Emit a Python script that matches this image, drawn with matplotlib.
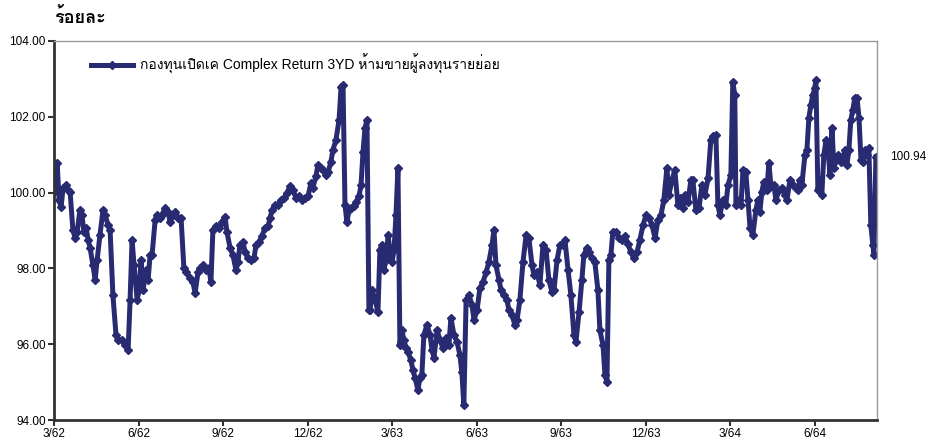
import matplotlib
matplotlib.use('Agg')
import matplotlib.pyplot as plt
from matplotlib import font_manager as fm
from matplotlib.ft2font import FT2Font

# month offset from 3/62 and NAV (% of par)
months = [
    0.00, 0.11, 0.18, 0.25, 0.32, 0.43, 0.50, 0.57, 0.67, 0.75, 0.82, 0.92, 0.99, 1.06, 1.14, 1.21,
    1.28, 1.38, 1.46, 1.53, 1.63, 1.74, 1.81, 1.92, 1.99, 2.09, 2.20, 2.27, 2.41, 2.52, 2.63, 2.70,
    2.77, 2.84, 2.95, 3.02, 3.09, 3.16, 3.27, 3.34, 3.41, 3.48, 3.59, 3.66, 3.76, 3.83, 3.94, 4.05,
    4.12, 4.19, 4.30, 4.40, 4.51, 4.61, 4.69, 4.83, 4.93, 5.01, 5.11, 5.18, 5.29, 5.40, 5.50, 5.57,
    5.64, 5.75, 5.86, 5.96, 6.07, 6.14, 6.25, 6.35, 6.46, 6.53, 6.60, 6.71, 6.78, 6.89, 6.99, 7.10,
    7.17, 7.28, 7.38, 7.49, 7.60, 7.67, 7.74, 7.85, 7.95, 8.06, 8.16, 8.27, 8.38, 8.48, 8.59, 8.70,
    8.80, 8.91, 9.02, 9.12, 9.19, 9.30, 9.37, 9.48, 9.55, 9.66, 9.73, 9.83, 9.90, 10.01, 10.12, 10.19,
    10.26, 10.33, 10.40, 10.47, 10.54, 10.65, 10.72, 10.83, 10.90, 10.97, 11.04, 11.11, 11.18, 11.22,
    11.29, 11.40, 11.50, 11.57, 11.64, 11.71, 11.79, 11.86, 11.93, 12.00, 12.07, 12.14, 12.21, 12.28,
    12.35, 12.42, 12.50, 12.57, 12.67, 12.74, 12.82, 12.92, 12.99, 13.06, 13.13, 13.24, 13.35, 13.42,
    13.49, 13.60, 13.70, 13.81, 13.92, 14.02, 14.09, 14.20, 14.31, 14.41, 14.48, 14.55, 14.63, 14.73,
    14.84, 14.91, 15.02, 15.12, 15.23, 15.34, 15.44, 15.55, 15.62, 15.69, 15.80, 15.87, 15.97, 16.08,
    16.15, 16.26, 16.36, 16.44, 16.54, 16.65, 16.76, 16.86, 16.97, 17.04, 17.15, 17.25, 17.36, 17.47,
    17.57, 17.68, 17.75, 17.86, 17.96, 18.07, 18.14, 18.25, 18.35, 18.46, 18.53, 18.64, 18.74, 18.81,
    18.92, 18.99, 19.10, 19.20, 19.31, 19.38, 19.49, 19.56, 19.63, 19.70, 19.77, 19.84, 19.95, 20.06,
    20.16, 20.27, 20.38, 20.48, 20.59, 20.70, 20.80, 20.91, 21.02, 21.12, 21.23, 21.34, 21.44, 21.55,
    21.65, 21.76, 21.83, 21.94, 22.04, 22.15, 22.22, 22.33, 22.40, 22.51, 22.61, 22.68, 22.79, 22.90,
    23.00, 23.11, 23.22, 23.32, 23.39, 23.50, 23.57, 23.64, 23.75, 23.85, 23.93, 24.03, 24.10, 24.17,
    24.21, 24.32, 24.39, 24.46, 24.56, 24.64, 24.71, 24.81, 24.92, 24.99, 25.06, 25.13, 25.20, 25.31,
    25.38, 25.45, 25.56, 25.63, 25.74, 25.84, 25.95, 26.02, 26.13, 26.23, 26.34, 26.41, 26.48, 26.55,
    26.66, 26.73, 26.80, 26.87, 26.94, 27.01, 27.05, 27.12, 27.19, 27.26, 27.33, 27.41, 27.48, 27.55,
    27.62, 27.69, 27.76, 27.83, 27.94, 28.01, 28.08, 28.15, 28.22, 28.29, 28.36, 28.43, 28.51, 28.58,
    28.65, 28.72, 28.79, 28.86, 28.93, 29.00, 29.07, 29.11, 29.18,
]
nav = [
    100.02, 100.78, 99.80, 99.62, 100.12, 100.20, 100.07, 100.02, 99.01, 98.80, 98.96, 99.54, 99.41, 98.96, 99.07, 98.75,
    98.54, 98.09, 97.69, 98.22, 98.88, 99.54, 99.41, 99.14, 99.01, 97.30, 96.24, 96.11, 96.11, 95.98, 95.85, 97.17,
    98.75, 98.09, 97.17, 97.43, 98.22, 97.43, 97.96, 97.69, 98.35, 98.35, 99.28, 99.41, 99.33, 99.41, 99.59, 99.49,
    99.22, 99.38, 99.49, 99.33, 99.33, 98.01, 97.90, 97.75, 97.64, 97.35, 97.90, 98.01, 98.09, 97.96, 98.01, 97.64,
    99.01, 99.12, 99.07, 99.22, 99.36, 98.96, 98.54, 98.35, 97.96, 98.17, 98.62, 98.70, 98.43, 98.27, 98.22, 98.27,
    98.62, 98.70, 98.85, 99.07, 99.12, 99.33, 99.54, 99.67, 99.67, 99.80, 99.86, 99.99, 100.17, 100.07, 99.86, 99.91,
    99.80, 99.86, 99.91, 100.25, 100.12, 100.44, 100.73, 100.65, 100.60, 100.46, 100.54, 100.81, 101.12, 101.39, 101.92, 102.79,
    102.84, 99.67, 99.22, 99.54, 99.59, 99.64, 99.75, 99.91, 100.20, 101.07, 101.70, 101.92, 96.90, 96.90,
    97.43, 97.17, 96.85, 98.48, 98.62, 97.96, 98.22, 98.88, 98.43, 98.17, 98.48, 99.41, 100.65, 95.98,
    96.37, 96.11, 95.90, 95.79, 95.58, 95.32, 95.11, 94.79, 95.11, 95.19, 96.24, 96.51, 96.24, 95.85,
    95.64, 96.37, 96.11, 95.90, 96.16, 95.98, 96.69, 96.24, 96.06, 95.71, 95.26, 94.39, 97.17, 97.30,
    97.03, 96.64, 96.90, 97.48, 97.64, 97.90, 98.17, 98.62, 99.01, 98.09, 97.69, 97.43, 97.30, 97.17,
    96.90, 96.77, 96.51, 96.64, 97.17, 98.17, 98.88, 98.80, 98.09, 97.82, 97.90, 97.56, 98.62, 98.48,
    97.69, 97.38, 97.43, 98.22, 98.62, 98.62, 98.75, 97.96, 97.30, 96.24, 96.06, 96.85, 97.69, 98.35,
    98.54, 98.43, 98.27, 98.17, 97.43, 96.37, 95.98, 95.19, 95.00, 98.22, 98.35, 98.96, 98.96, 98.80,
    98.75, 98.85, 98.64, 98.43, 98.27, 98.43, 98.75, 99.14, 99.41, 99.33, 99.14, 98.80, 99.28, 99.41,
    99.80, 100.65, 99.94, 100.33, 100.60, 99.67, 99.86, 99.59, 99.94, 99.75, 100.33, 100.33, 99.54, 99.59,
    100.20, 99.94, 100.38, 101.39, 101.49, 101.52, 99.67, 99.41, 99.80, 99.67, 100.20, 100.46, 102.92, 102.57,
    99.67, 99.80, 99.67, 100.60, 100.54, 99.80, 99.07, 98.88, 99.54, 99.80, 99.49, 100.02, 100.28, 100.07,
    100.78, 100.20, 100.20, 99.80, 100.07, 100.12, 99.94, 99.80, 100.33, 100.20, 100.12, 100.07, 100.33, 100.20,
    100.99, 101.12, 101.97, 102.31, 102.57, 102.76, 102.97, 100.07, 100.33, 99.94, 100.99, 101.39, 101.12, 100.46,
    101.70, 100.65, 100.86, 100.99, 100.81, 100.91, 101.12, 100.73, 101.12, 101.92, 102.18, 102.50, 102.50, 101.97,
    100.86, 100.81, 101.12, 100.99, 101.18, 99.14, 98.62, 98.35, 100.94,
]
tick_months = [0, 3, 6, 9, 12, 15, 18, 21, 24, 27]
tick_labels = ['3/62', '6/62', '9/62', '12/62', '3/63', '6/63', '9/63', '12/63', '3/64', '6/64']
series_name = 'กองทุนเปิดเค Complex Return 3YD ห้ามขายผู้ลงทุนรายย่อย'
unit_label = 'ร้อยละ'
last_label = '100.94'

# look for installed fonts with Thai glyphs; prefer ones whose
# above-marks have zero advance (they stack properly without shaping)
candidates = []
for path in fm.findSystemFonts():
    try:
        f = FT2Font(path)
        cmap = f.get_charmap()
        if 0x0E01 not in cmap or 0x0E49 not in cmap:
            continue
        g = f.load_char(0x0E49)
        score = 0 if g.linearHoriAdvance == 0 else 1
        bold = 'bold' in f.style_name.lower()
        candidates.append((score, bold, path))
    except Exception:
        pass

thai_regular = None
thai_bold = None
candidates.sort()
for score, bold, path in candidates:
    fm.fontManager.addfont(path)
for score, bold, path in candidates:
    if not bold and thai_regular is None:
        thai_regular = fm.FontProperties(fname=path).get_name()
    if bold and thai_bold is None:
        thai_bold = fm.FontProperties(fname=path).get_name()
if thai_regular is None and candidates:
    thai_regular = fm.FontProperties(fname=candidates[0][2]).get_name()

families = ['Liberation Sans', 'DejaVu Sans']
if thai_regular:
    families = ['Liberation Sans', thai_regular, 'DejaVu Sans']
plt.rcParams['font.family'] = families

navy = '#282b72'

fig = plt.figure(figsize=(9.35, 4.44), dpi=100)
ax = fig.add_axes([0.0578, 0.054, 0.8802, 0.8537])

ax.plot(months, nav, color=navy, lw=3.6, marker='D', markersize=4, label=series_name)

ax.set_xlim(0, 29.22)
ax.set_ylim(94, 104)
ax.set_yticks([94, 96, 98, 100, 102, 104])
ax.set_yticklabels(['%.2f' % v for v in [94, 96, 98, 100, 102, 104]])
ax.set_xticks(tick_months)
ax.set_xticklabels(tick_labels)
ax.tick_params(axis='both', labelsize=8.5, color='#333333', length=4, width=1.5, direction='out', pad=2)

for side in ['left', 'bottom']:
    ax.spines[side].set_color('#333333')
    ax.spines[side].set_linewidth(2)
for side in ['top', 'right']:
    ax.spines[side].set_color('#999999')
    ax.spines[side].set_linewidth(1)

ax.legend(loc='upper left', bbox_to_anchor=(0.03, 0.998), frameon=False, fontsize=10,
          handlelength=3.0, handletextpad=0.5)

ax.annotate(last_label, xy=(months[-1], nav[-1]), xytext=(10, 0), textcoords='offset points',
            va='center', ha='left', fontsize=8.5, annotation_clip=False)

title_fam = ['Liberation Sans'] + ([thai_bold] if thai_bold else []) + families[1:]
fig.text(0.058, 0.96, unit_label, fontsize=13, fontweight='bold', va='center', ha='left',
         family=title_fam)

fig.savefig('out.png', dpi=100)
